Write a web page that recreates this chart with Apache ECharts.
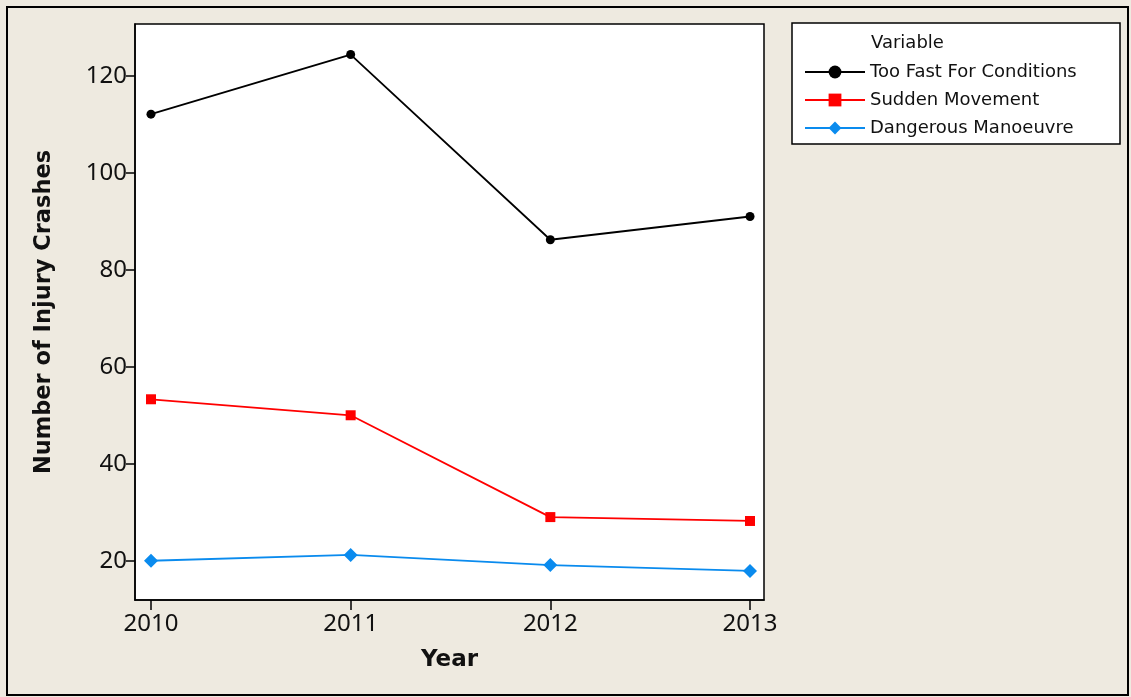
<!DOCTYPE html>
<html><head><meta charset="utf-8">
<script src="https://cdn.jsdelivr.net/npm/echarts@6/dist/echarts.min.js"></script>
<style>html,body{margin:0;padding:0;background:#EEEAE0;}#c{width:1131px;height:697px;}</style>
</head><body><div id="c"></div>
<script>
const years = [2010, 2011, 2012, 2013];
const tooFast = [112.1, 124.4, 86.2, 91.0];
const sudden = [53.3, 50.0, 29.0, 28.2];
const dangerous = [20.0, 21.2, 19.1, 17.9];
const yTicks = [20, 40, 60, 80, 100, 120];
const seriesNames = ['Too Fast For Conditions', 'Sudden Movement', 'Dangerous Manoeuvre'];
const legendTitle = 'Variable';
const xTitle = 'Year';
const yTitle = 'Number of Injury Crashes';

const FONT = 'Noto Sans';
const LFONT = 'DejaVu Sans';
const chart = echarts.init(document.getElementById('c'), null, {renderer: 'canvas'});
const pairs = arr => years.map((y, i) => [y, arr[i]]);

chart.setOption({
  backgroundColor: '#EEEAE0',
  animation: false,
  textStyle: {fontFamily: FONT},
  graphic: [
    {type: 'rect', shape: {x: 7, y: 7, width: 1121, height: 688}, style: {fill: 'none', stroke: '#000', lineWidth: 2}, z: -1},
    {type: 'rect', shape: {x: 792, y: 23, width: 328, height: 121}, style: {fill: '#fff', stroke: '#000', lineWidth: 1.5}, z: 0},
    {type: 'text', x: 871, y: 43, style: {text: legendTitle, fontFamily: LFONT, fontSize: 18, fill: '#111', verticalAlign: 'middle'}, z: 5}
  ],
  legend: {
    orient: 'vertical', left: 799, top: 58, itemWidth: 60, itemHeight: 16, itemGap: 10,
    textStyle: {fontFamily: LFONT, fontSize: 18, color: '#111', lineHeight: 18, padding: [0, 0, 0, 0]},
    data: seriesNames, z: 6
  },
  grid: {left: 135, top: 24, right: 367, bottom: 97, show: true, backgroundColor: '#fff', borderColor: '#000', borderWidth: 1.5},
  xAxis: {
    type: 'value', min: 2009.92, max: 2013.07,
    name: xTitle, nameLocation: 'middle', nameGap: 49,
    nameTextStyle: {fontFamily: LFONT, fontSize: 23, fontWeight: 'bold', color: '#111'},
    axisLine: {show: true, lineStyle: {color: '#000', width: 1.5}},
    axisTick: {show: true, length: 10, lineStyle: {color: '#000', width: 1.5}, customValues: years},
    axisLabel: {fontFamily: FONT, fontSize: 24, color: '#111', margin: 12, customValues: years, formatter: v => String(v)},
    splitLine: {show: false}
  },
  yAxis: {
    type: 'value', min: 11.9, max: 130.7,
    name: yTitle, nameLocation: 'middle', nameGap: 79, nameRotate: 90,
    nameTextStyle: {fontFamily: LFONT, fontSize: 22.5, fontWeight: 'bold', color: '#111'},
    axisLine: {show: true, lineStyle: {color: '#000', width: 1.5}},
    axisTick: {show: true, length: 9, lineStyle: {color: '#000', width: 1.5}, customValues: yTicks},
    axisLabel: {fontFamily: FONT, fontSize: 24, color: '#111', margin: 8, customValues: yTicks},
    splitLine: {show: false}
  },
  series: [
    {name: seriesNames[0], type: 'line', data: pairs(tooFast), symbol: 'circle', symbolSize: 9,
     itemStyle: {color: '#000'}, lineStyle: {color: '#000', width: 1.8}},
    {name: seriesNames[1], type: 'line', data: pairs(sudden), symbol: 'rect', symbolSize: 10,
     itemStyle: {color: '#FF0000'}, lineStyle: {color: '#FF0000', width: 1.8}},
    {name: seriesNames[2], type: 'line', data: pairs(dangerous), symbol: 'diamond', symbolSize: 14,
     itemStyle: {color: '#0A8BEE'}, lineStyle: {color: '#0A8BEE', width: 1.8}}
  ]
});
</script></body></html>
